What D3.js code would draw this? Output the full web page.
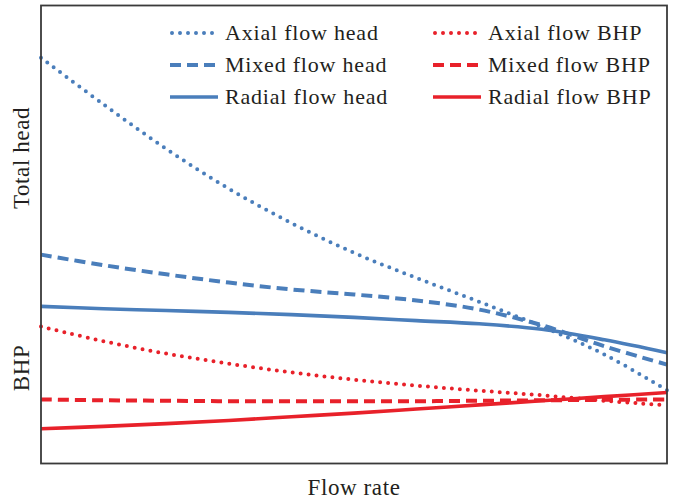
<!DOCTYPE html>
<html>
<head>
<meta charset="utf-8">
<script src="https://cdn.jsdelivr.net/npm/d3@7"></script>
<style>
  html, body { margin: 0; padding: 0; background: #fff; }
  svg { display: block; }
  text { font-family: "Liberation Serif", "Times New Roman", serif; fill: #231f20; }
</style>
</head>
<body>
<svg id="chart" width="682" height="500"></svg>
<script>
// ---- Data (relative units, no ticks shown in original) ----
const flowRate = [0, 1, 2, 3, 4, 5, 6, 7, 8, 9, 10];
const axialHead  = [88.6, 78.4, 68.7, 60.0, 52.5, 46.0, 40.5, 35.3, 29.9, 23.8, 16.0];
const mixedHead  = [45.6, 43.3, 41.3, 39.5, 38.0, 36.9, 35.6, 33.6, 30.2, 25.6, 21.6];
const radialHead = [34.3, 33.8, 33.4, 33.0, 32.5, 31.9, 31.2, 30.5, 29.3, 27.0, 24.2];
const axialBHP   = [29.9, 26.7, 24.0, 21.8, 19.9, 18.3, 17.0, 15.9, 14.9, 13.7, 12.7];
const mixedBHP   = [14.0, 13.8, 13.7, 13.6, 13.6, 13.6, 13.6, 13.7, 13.8, 13.9, 14.0];
const radialBHP  = [7.6, 8.1, 8.7, 9.4, 10.2, 11.0, 11.9, 12.8, 13.7, 14.6, 15.5];
const seriesNames = ["Axial flow head", "Mixed flow head", "Radial flow head",
                     "Axial flow BHP", "Mixed flow BHP", "Radial flow BHP"];
const xLabel = "Flow rate";
const yLabels = ["Total head", "BHP"];

const BLUE = "#4a7ebb", RED = "#e8212a";
const styles = {
  dotted: { dash: "0,8", width: 4, cap: "round" },
  dashed: { dash: "11,6", width: 4, cap: "butt" },
  solid:  { dash: null, width: 3.6, cap: "butt" }
};
const series = [
  { name: seriesNames[0], values: axialHead,  color: BLUE, style: "dotted" },
  { name: seriesNames[1], values: mixedHead,  color: BLUE, style: "dashed" },
  { name: seriesNames[2], values: radialHead, color: BLUE, style: "solid" },
  { name: seriesNames[3], values: axialBHP,   color: RED,  style: "dotted" },
  { name: seriesNames[4], values: mixedBHP,   color: RED,  style: "dashed" },
  { name: seriesNames[5], values: radialBHP,  color: RED,  style: "solid" }
];

const svg = d3.select("#chart");
const plot = { left: 41, top: 5.5, right: 667, bottom: 463.5 };

const x = d3.scaleLinear().domain([0, 10]).range([plot.left, plot.right]);
const y = d3.scaleLinear().domain([0, 100]).range([plot.bottom, plot.top]);

const line = d3.line()
  .x((d, i) => x(flowRate[i]))
  .y(d => y(d))
  .curve(d3.curveCatmullRom.alpha(0.5));

const g = svg.append("g");
series.forEach(s => {
  const st = styles[s.style];
  g.append("path")
    .attr("d", line(s.values))
    .attr("fill", "none")
    .attr("stroke", s.color)
    .attr("stroke-width", st.width)
    .attr("stroke-linecap", st.cap)
    .attr("stroke-dasharray", st.dash);
});

// Frame
svg.append("rect")
  .attr("x", plot.left).attr("y", plot.top)
  .attr("width", plot.right - plot.left).attr("height", plot.bottom - plot.top)
  .attr("fill", "none").attr("stroke", "#3a3a3a").attr("stroke-width", 1.8);

// Legend
const legCols = [{ x0: 170, x1: 218, tx: 225 }, { x0: 433, x1: 481, tx: 488 }];
const legRows = [33, 65, 97];
series.forEach((s, i) => {
  const c = legCols[Math.floor(i / 3)], ry = legRows[i % 3];
  const st = styles[s.style];
  svg.append("line")
    .attr("x1", c.x0 + (s.style === "dotted" ? 2 : 0)).attr("x2", c.x1)
    .attr("y1", ry).attr("y2", ry)
    .attr("stroke", s.color).attr("stroke-width", st.width)
    .attr("stroke-linecap", st.cap).attr("stroke-dasharray", st.dash);
  svg.append("text")
    .attr("x", c.tx).attr("y", ry + 7)
    .attr("font-size", 22).attr("letter-spacing", 0.8)
    .text(s.name);
});

// Axis labels
svg.append("text")
  .attr("x", (plot.left + plot.right) / 2).attr("y", 495)
  .attr("text-anchor", "middle").attr("font-size", 23).attr("letter-spacing", 0.6)
  .text(xLabel);
svg.append("text")
  .attr("transform", "translate(29,158) rotate(-90)")
  .attr("text-anchor", "middle").attr("font-size", 23).attr("letter-spacing", 0.6)
  .text(yLabels[0]);
svg.append("text")
  .attr("transform", "translate(29,368) rotate(-90)")
  .attr("text-anchor", "middle").attr("font-size", 23).attr("letter-spacing", 0.6)
  .text(yLabels[1]);
</script>
</body>
</html>
